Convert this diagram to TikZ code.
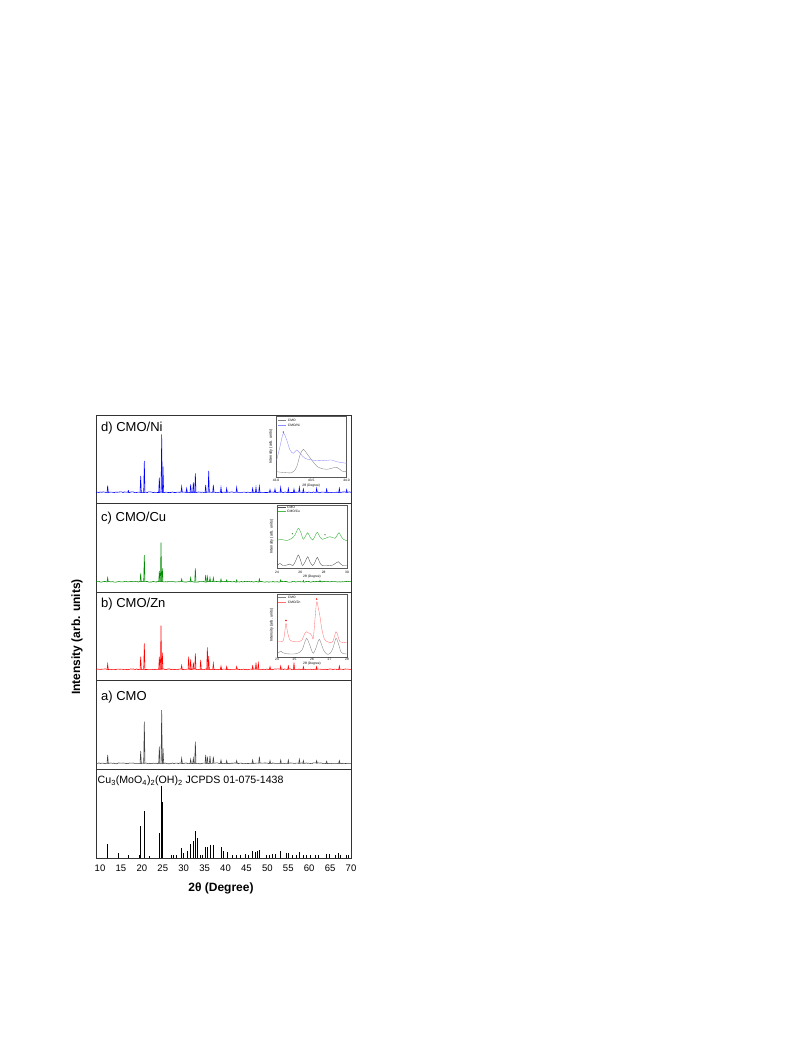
\documentclass[tikz,border=0pt]{standalone}
\usepackage{fontspec}
\setmainfont{Liberation Sans}
\usepackage{tikz}
\usetikzlibrary{positioning,decorations.pathmorphing}

\newcommand{\xrdtrace}[3]{% colour, baseline, peaks (2theta/height)
  \draw[#1, decorate, decoration={random steps, segment length=1.5pt, amplitude=0.45pt}] (9.04,#2) -- (70,#2);
  \foreach \p/\h in {#3}
    \draw[#1] (\p-0.15,#2) -- (\p,#2-\h) -- (\p+0.15,#2);
}

\begin{document}
\begin{tikzpicture}[x=1pt,y=-1pt]
\tikzstyle{frame} = [draw=black!80, line width=0.9pt]
\tikzstyle{insetframe} = [draw=black!65, line width=0.35pt]
\tikzstyle{panellabel} = [anchor=base west, inner sep=0pt, font=\fontsize{13}{15}\selectfont]
\tikzstyle{reflabel} = [anchor=base west, inner sep=0pt, font=\fontsize{10.6}{12}\selectfont]
\tikzstyle{ticklabel} = [inner sep=0pt, font=\fontsize{9.5}{11}\selectfont]
\tikzstyle{axislabel} = [inner sep=0pt, font=\bfseries\fontsize{12}{14}\selectfont]
\tikzstyle{tinytext} = [inner sep=0pt, font=\fontsize{3.3}{4}\selectfont]
\tikzstyle{tinyaxis} = [inner sep=0pt, font=\fontsize{3.8}{4.5}\selectfont, rotate=90]
\tikzstyle{stick} = [draw=black, line width=0.55pt]
\tikzstyle{cmoline} = [draw=black!50, line width=0.35pt]
\useasboundingbox (0,0) rectangle (793,1057);

% frame and panels
\draw[frame] (96,415) rectangle (351,858);
\foreach \s in {503.6,592.2,680.8,769.4}
  \draw[frame] (96,\s) -- (351,\s);

% patterns
\begin{scope}[x=4.183pt, xshift=58.19pt]
\xrdtrace{blue, line width=0.55pt}{492.3}{11.83/6.7, 16.77/1.7, 19.72/16.3, 20.59/31.3, 24.18/14.7, 24.74/58, 25.06/25.7, 29.52/5.7, 30.72/4, 31.67/8, 32.31/10, 32.79/19, 35.26/7.3, 35.98/21.3, 37.09/7.3, 38.92/5, 40.28/4, 42.67/5, 46.49/4, 47.29/5, 48.09/6, 50.64/2.7, 51.83/3.3, 53.19/5, 55.02/4, 56.37/3.3, 57.65/5, 58.61/3.3, 61.79/4, 64.18/3.3, 67.21/4, 68.97/2.7}
\xrdtrace{green!55!black, line width=0.55pt}{581.7}{11.83/4, 19.72/8.3, 20.59/26.7, 24.18/10.7, 24.58/39, 24.9/13.3, 29.52/2.7, 31.67/4, 32.79/13.3, 35.26/6.7, 35.66/5, 36.29/4, 37.09/4, 38.92/2.7, 40.28/1.7, 42.67/1.7, 48.09/2.7, 53.19/1.7, 58.61/1.3, 62.59/1.3}
\xrdtrace{red, line width=0.55pt}{669.3}{11.83/5.3, 19.72/12.7, 20.59/26, 24.18/12.7, 24.58/43.7, 24.9/16.7, 29.52/4, 31.19/12.7, 31.67/10, 32.31/6.7, 32.79/16, 34.06/9.3, 35.66/22, 35.98/13.3, 37.09/6, 38.92/3.3, 40.28/2.7, 42.67/2.7, 46.49/3.3, 47.29/6.7, 47.85/6, 50.64/2.7, 53.19/3.3, 55.02/3.3, 56.37/6.7, 58.61/2.7, 61.79/2.7, 67.21/3.3}
\xrdtrace{black!75, line width=0.55pt}{763.3}{11.83/8.3, 19.72/12.3, 20.59/41.7, 24.18/16.7, 24.74/53.3, 25.06/15, 29.52/5, 31.67/4, 32.31/5, 32.79/21.7, 35.26/8.3, 35.66/6.7, 36.29/7.3, 37.09/6.7, 38.92/3.3, 40.28/2.7, 42.67/2.7, 46.49/3.3, 48.09/6.7, 50.64/2.7, 53.19/3.3, 55.02/3.3, 57.65/4, 58.61/2.7, 61.79/2.7, 64.18/2, 67.21/2.7}
% reference sticks
\foreach \p/\h in {11.83/14, 14.38/5, 16.77/3.3, 19.32/2.7, 19.72/32.3, 20.59/46.7, 21.79/1.7, 24.18/24.7, 24.58/72, 24.9/55.7, 26.97/2.7, 27.53/3.3, 28.33/2.7, 29.52/10, 29.92/5, 30.87/7.3, 31.67/14, 32.31/17.3, 32.79/26.7, 33.19/20, 34.06/3.3, 34.54/2.7, 35.26/11.3, 35.66/10.7, 36.29/13, 37.09/13.3, 38.92/11.3, 39.48/6.7, 40.44/6, 41.71/2.7, 42.67/3.3, 43.47/2.7, 44.66/4, 45.46/3.3, 46.49/6.7, 47.05/6, 47.61/6.7, 48.09/8, 49.68/2.7, 50.48/3.3, 51.28/4, 51.83/4, 53.19/6.7, 54.46/5, 55.02/5, 56.06/2.7, 57.01/3.3, 57.65/6, 58.61/3.3, 59.4/2.7, 60.36/3.3, 61.39/2.7, 62.19/2.7, 64.18/4, 64.82/4, 66.18/3.3, 66.97/4.7, 67.53/3.3, 68.81/2.7, 69.36/3.3}
  \draw[stick] (\p,858) -- (\p,858-\h);
% x ticks
\foreach \t in {10,15,...,70}
  \node[ticklabel] (tick\t) at (\t,868) {\t};
\end{scope}

% panel labels
\node[panellabel] (labni) at (101,431.5) {d) CMO/Ni};
\node[panellabel] (labcu) at (101,521) {c) CMO/Cu};
\node[panellabel] (labzn) at (101,607) {b) CMO/Zn};
\node[panellabel] (labcmo) at (101,700) {a) CMO};
\node[reflabel] (labref) at (97.5,783.5) {Cu\textsubscript{3}(MoO\textsubscript{4})\textsubscript{2}(OH)\textsubscript{2} JCPDS 01-075-1438};

% axis titles
\node[axislabel] (xlab) at (221,888) {2θ (Degree)};
\node[axislabel, rotate=90] (ylab) at (77,637) {Intensity (arb. units)};

% inset d
\begin{scope}[shift={(276,416.5)}]
\draw[insetframe] (0,0) rectangle (70.5,60.5);
\draw[cmoline] plot[smooth] coordinates {(0.7,55.2) (15.7,56.2) (20.7,50.2) (24,38.5) (27.3,32.8) (30.7,36.8) (35.7,43.5) (42.3,50.8) (50.7,52.8) (60.7,50.8) (65.7,54.5) (70.5,55.2)};
\draw[blue!45, line width=0.35pt] plot[smooth] coordinates {(0.7,43.5) (4,30) (7.3,16.8) (10.7,23.5) (14,33.5) (17.3,36.8) (20.7,33.5) (24,36.8) (29,41.8) (35.7,43.5) (45.7,44.2) (55.7,43.5) (60.7,45.2) (70.5,46.8)};
\fill[blue] (7.3,15.5) circle (0.7);
\draw[cmoline] (2.3,3.5) -- (9.7,3.5);
\draw[blue!45, line width=0.35pt] (2.3,8.5) -- (9.7,8.5);
\node[tinytext, anchor=west] (legni1) at (11.7,3.5) {CMO};
\node[tinytext, anchor=west] (legni2) at (11.7,8.5) {CMO/Ni};
\node[tinytext] (tni1) at (0,64.2) {43.0};
\node[tinytext] (tni2) at (35.25,64.2) {43.5};
\node[tinytext] (tni3) at (70.5,64.2) {44.0};
\node[tinytext] (xni) at (35.25,69.5) {2θ (Degree)};
\node[tinyaxis] (yni) at (-5,30) {Intensity (arb. units)};
\end{scope}

% inset c
\begin{scope}[shift={(277,505)}]
\draw[insetframe] (0,0) rectangle (70,63.3);
\draw[black!70, line width=0.35pt] plot[smooth] coordinates {(0.7,60) (3,58.5) (6,60.5) (10,60) (13,59) (16,60.5) (19,55) (21.3,50) (23.5,55) (25.5,60.5) (28.5,56) (30.7,51.7) (33,57) (35.7,60.5) (38,57) (40.3,52.3) (42.5,57) (45,60.5) (50,60.7) (56,60) (59,58) (61.3,56.7) (63.5,59) (66,60.7) (70,60.7)};
\draw[green!60!black!70, line width=0.45pt] plot[smooth] coordinates {(0.7,35) (5,34.5) (10,35.5) (15.3,33) (18,30) (21.3,23.3) (24,28) (26.3,34.3) (28.5,31) (30.7,27.7) (33,32) (35.7,35) (38,31) (40.3,27.3) (43,32) (45.3,34.3) (48,33.5) (53,31.7) (58,33.3) (60,30.5) (62,27.7) (64,31) (66.3,34.3) (70,35.7)};
\fill[green!40!black] (15.3,28.8) circle (0.6);
\fill[green!40!black] (48,29.8) circle (0.6);
\draw[black!70, line width=0.35pt] (0.7,2.5) -- (8.7,2.5);
\draw[green!60!black!70, line width=0.45pt] (0.7,6.5) -- (8.7,6.5);
\node[tinytext, anchor=west] (legcu1) at (10,2.5) {CMO};
\node[tinytext, anchor=west] (legcu2) at (10,6.5) {CMO/Cu};
\node[tinytext] (tcu1) at (0,67) {24};
\node[tinytext] (tcu2) at (23.3,67) {26};
\node[tinytext] (tcu3) at (46.7,67) {28};
\node[tinytext] (tcu4) at (70,67) {30};
\node[tinytext] (xcu) at (35,71.5) {2θ (Degree)};
\node[tinyaxis] (ycu) at (-5.3,31.5) {Intensity (arb. units)};
\end{scope}

% inset b
\begin{scope}[shift={(277,594)}]
\draw[insetframe] (0,0) rectangle (70,62.7);
\draw[cmoline] plot[smooth] coordinates {(0.7,59.3) (2.5,58) (4,57) (5.5,58.5) (8,59.5) (14,60) (20,59.5) (25,56) (27.5,49) (29.7,44.3) (32,49) (34.5,56) (36.3,59.3) (39,54) (40.5,49) (42.3,45.3) (44,49) (46.5,56) (49.7,60) (53,59.5) (56,54) (59,44.3) (61.5,50) (64,58) (66,59.5) (69.7,60)};
\draw[red!55, line width=0.35pt] plot[smooth] coordinates {(0.7,47.7) (6,47) (7.5,40) (9,29.3) (10.5,38) (13,46) (17,47.5) (21.3,47.7) (25,46) (27.5,40) (29.7,37.7) (31.5,39) (33,39.3) (35,42) (36.3,44.3) (38,25) (39.7,7.7) (41.5,15) (43,22.7) (45,36) (48,46) (54.7,48.7) (57,44) (59,37.7) (61,42) (63,47.7) (69.7,48.7)};
\fill[red] (9,26.5) circle (0.8);
\fill[red] (39.7,5) circle (0.8);
\draw[cmoline] (1.3,3) -- (8.7,3);
\draw[red!55, line width=0.35pt] (1.3,8) -- (8.7,8);
\node[tinytext, anchor=west] (legzn1) at (10.7,3) {CMO};
\node[tinytext, anchor=west] (legzn2) at (10.7,8) {CMO/Zn};
\foreach \k/\v in {0/24,1/25,2/26,3/27,4/28}
  \node[tinytext] (tzn\k) at (17.5*\k,65.5) {\v};
\node[tinytext] (xzn) at (35,69.5) {2θ (Degree)};
\node[tinyaxis] (yzn) at (-5.3,31) {Intensity (arb. units)};
\end{scope}
\end{tikzpicture}
\end{document}
